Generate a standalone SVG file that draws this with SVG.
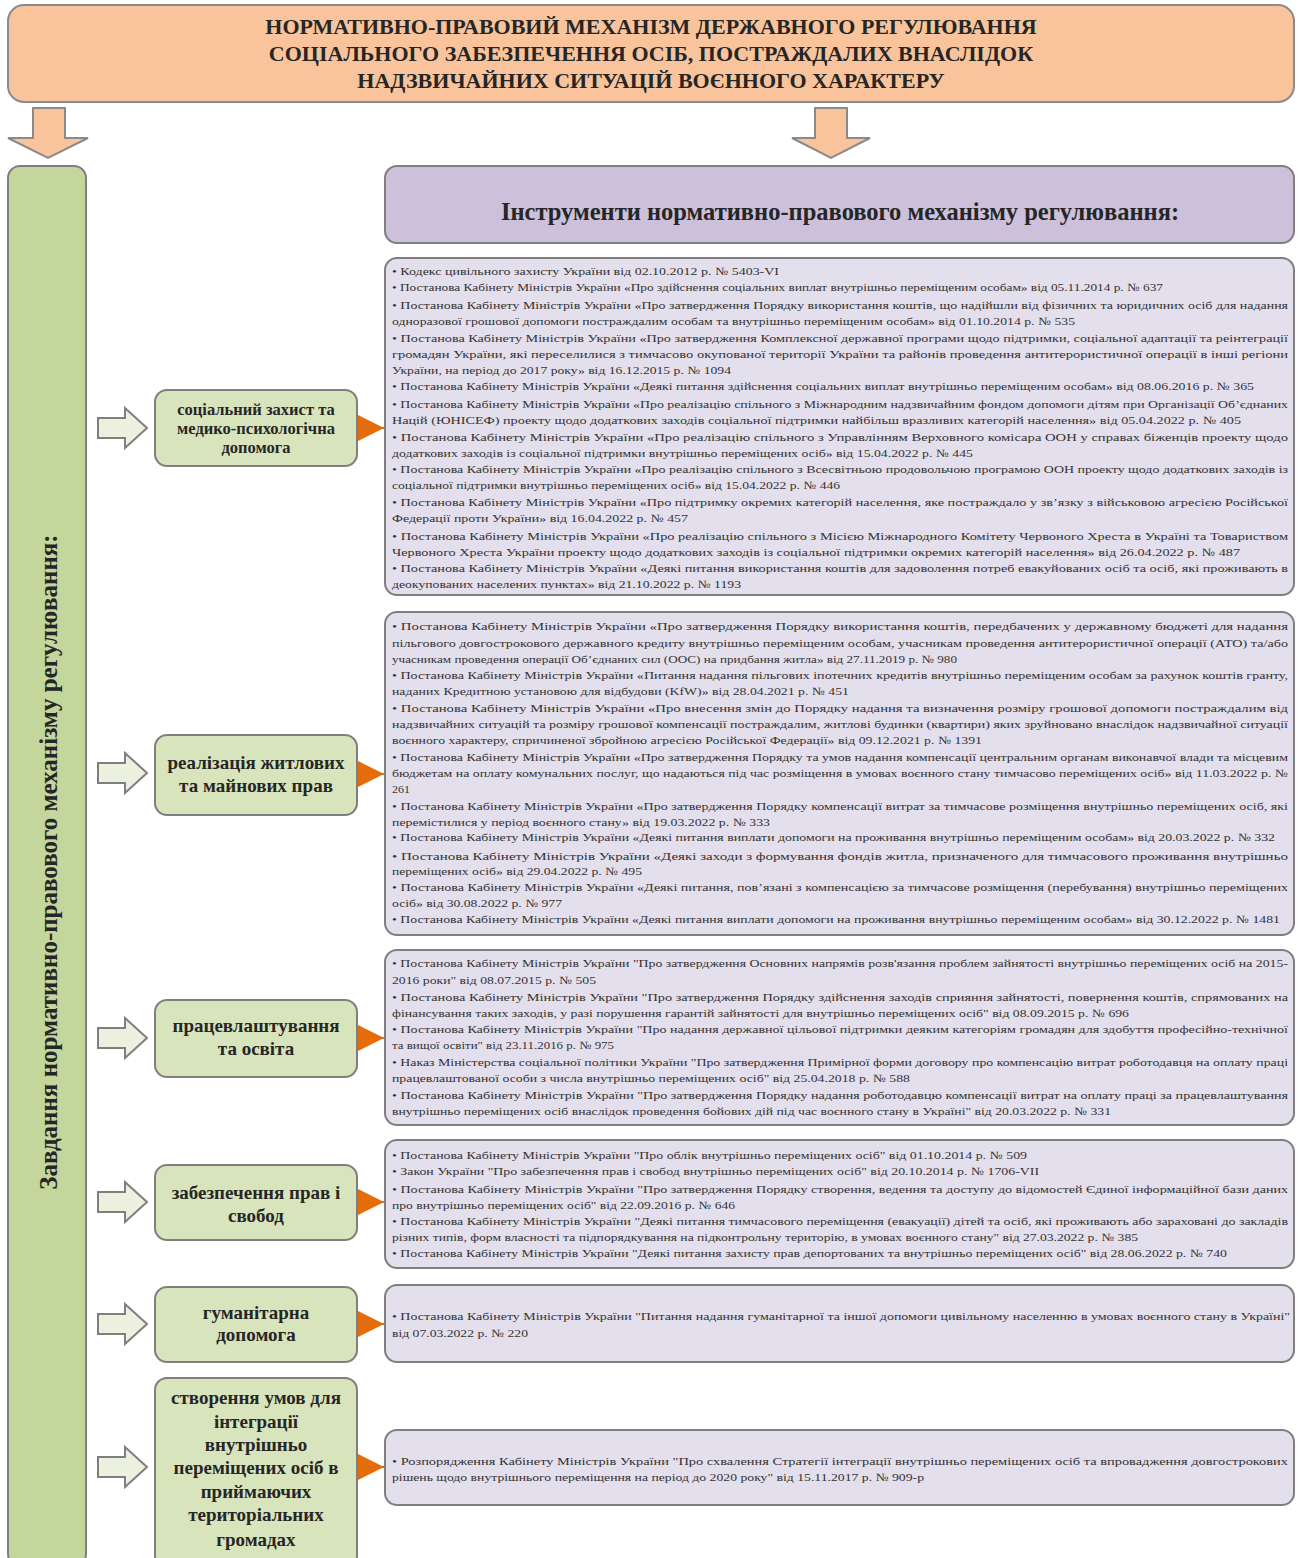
<svg xmlns="http://www.w3.org/2000/svg" width="1300" height="1558" viewBox="0 0 1300 1558">
<defs>
<style>
.hdr{fill:#f9c49b;stroke:#8a8a8a;stroke-width:2}
.grn{fill:#c3d69b;stroke:#7f7f7f;stroke-width:2}
.node{fill:#d8e4bc;stroke:#7f7f7f;stroke-width:2}
.phdr{fill:#ccc0da;stroke:#7f7f7f;stroke-width:2}
.pbox{fill:#e4dfec;stroke:#7f7f7f;stroke-width:2}
.harr{fill:#ebf1de;stroke:#7f7f7f;stroke-width:2;stroke-linejoin:miter}
.darr{fill:#f9c49b;stroke:#8a8a8a;stroke-width:2}
.conn{stroke:#595959;stroke-width:1.5;fill:none}
.tri{fill:#e46c0a}
.t{font-family:"Liberation Serif","Times New Roman",serif;fill:#333;font-size:11px}
.tb{font-family:"Liberation Serif","Times New Roman",serif;font-weight:bold;fill:#262626}
.title{font-size:22px;text-anchor:middle}
.ntx{text-anchor:middle}
</style>
<marker id="tri" viewBox="0 0 10 10" refX="10" refY="5" markerWidth="26" markerHeight="28" markerUnits="userSpaceOnUse" orient="auto">
<path d="M0,0 L10,5 L0,10 Z" class="tri"/>
</marker>
</defs>

<g id="header">
<rect class="hdr" x="8" y="5" width="1286" height="97" rx="16"/>
<text class="tb title" x="651" y="34">НОРМАТИВНО-ПРАВОВИЙ МЕХАНІЗМ ДЕРЖАВНОГО РЕГУЛЮВАННЯ</text>
<text class="tb title" x="651" y="61">СОЦІАЛЬНОГО ЗАБЕЗПЕЧЕННЯ ОСІБ, ПОСТРАЖДАЛИХ ВНАСЛІДОК</text>
<text class="tb title" x="651" y="88">НАДЗВИЧАЙНИХ СИТУАЦІЙ ВОЄННОГО ХАРАКТЕРУ</text>
</g>

<g id="connectors">
<path class="darr" d="M33,108 H65 V138 H88 L48,158 L8,138 H33 Z"/>
<path class="darr" d="M815,108 H847 V138 H870 L831,158 L792,138 H815 Z"/>
<path class="harr" d="M98,418 H125 V408 L147,428 L125,448 V438 H98 Z"/>
<line class="conn" x1="357" y1="428" x2="384" y2="428" marker-end="url(#tri)"/>
<path class="harr" d="M98,763 H125 V753 L147,773 L125,793 V783 H98 Z"/>
<line class="conn" x1="357" y1="774" x2="384" y2="774" marker-end="url(#tri)"/>
<path class="harr" d="M98,1028 H125 V1018 L147,1038 L125,1058 V1048 H98 Z"/>
<line class="conn" x1="357" y1="1038" x2="384" y2="1038" marker-end="url(#tri)"/>
<path class="harr" d="M98,1192 H125 V1182 L147,1202 L125,1222 V1212 H98 Z"/>
<line class="conn" x1="357" y1="1202" x2="384" y2="1202" marker-end="url(#tri)"/>
<path class="harr" d="M98,1314 H125 V1304 L147,1324 L125,1344 V1334 H98 Z"/>
<line class="conn" x1="357" y1="1324" x2="384" y2="1324" marker-end="url(#tri)"/>
<path class="harr" d="M98,1457 H125 V1447 L147,1467 L125,1487 V1477 H98 Z"/>
<line class="conn" x1="357" y1="1467" x2="384" y2="1467" marker-end="url(#tri)"/>
</g>

<g id="tasks">
<rect class="grn" x="8" y="166" width="78" height="1400" rx="12"/>
<text class="tb" font-size="25" text-anchor="middle" transform="translate(57,862) rotate(-90)">Завдання нормативно-правового механізму регулювання:</text>
</g>

<g id="instruments">
<rect class="phdr" x="385" y="166" width="909" height="77" rx="12"/>
<text class="tb" font-size="24.5" text-anchor="middle" x="840" y="220">Інструменти нормативно-правового механізму регулювання:</text>
</g>

<g id="node1">
<rect class="node" x="155" y="390" width="202" height="76" rx="12"/>
<text class="tb ntx" font-size="16.5" x="256" y="415">соціальний захист та</text>
<text class="tb ntx" font-size="16.5" x="256" y="434">медико-психологічна</text>
<text class="tb ntx" font-size="16.5" x="256" y="453">допомога</text>
</g>
<g id="node2">
<rect class="node" x="155" y="735" width="202" height="80" rx="12"/>
<text class="tb ntx" font-size="19" x="256" y="769">реалізація житлових</text>
<text class="tb ntx" font-size="19" x="256" y="792">та майнових прав</text>
</g>
<g id="node3">
<rect class="node" x="155" y="1000" width="202" height="77" rx="12"/>
<text class="tb ntx" font-size="19" x="256" y="1032">працевлаштування</text>
<text class="tb ntx" font-size="19" x="256" y="1055">та освіта</text>
</g>
<g id="node4">
<rect class="node" x="155" y="1165" width="202" height="75" rx="12"/>
<text class="tb ntx" font-size="19" x="256" y="1199">забезпечення прав і</text>
<text class="tb ntx" font-size="19" x="256" y="1222">свобод</text>
</g>
<g id="node5">
<rect class="node" x="155" y="1287" width="202" height="75" rx="12"/>
<text class="tb ntx" font-size="19" x="256" y="1319">гуманітарна</text>
<text class="tb ntx" font-size="19" x="256" y="1341">допомога</text>
</g>
<g id="node6">
<rect class="node" x="155" y="1378" width="202" height="190" rx="12"/>
<text class="tb ntx" font-size="19" x="256" y="1404">створення умов для</text>
<text class="tb ntx" font-size="19" x="256" y="1428">інтеграції</text>
<text class="tb ntx" font-size="19" x="256" y="1451">внутрішньо</text>
<text class="tb ntx" font-size="19" x="256" y="1474">переміщених осіб в</text>
<text class="tb ntx" font-size="19" x="256" y="1498">приймаючих</text>
<text class="tb ntx" font-size="19" x="256" y="1521">територіальних</text>
<text class="tb ntx" font-size="19" x="256" y="1546">громадах</text>
</g>

<g id="box1">
<rect class="pbox" x="385" y="258" width="909" height="337" rx="12"/>
<text class="t" x="392" y="275" textLength="387" lengthAdjust="spacingAndGlyphs">• Кодекс цивільного захисту України від 02.10.2012 р. № 5403-VI</text>
<text class="t" x="392" y="291" textLength="771" lengthAdjust="spacingAndGlyphs">• Постанова Кабінету Міністрів України «Про здійснення соціальних виплат внутрішньо переміщеним особам» від 05.11.2014 р. № 637</text>
<text class="t" x="392" y="309" textLength="896" lengthAdjust="spacingAndGlyphs">• Постанова Кабінету Міністрів України «Про затвердження Порядку використання коштів, що надійшли від фізичних та юридичних осіб для надання</text>
<text class="t" x="392" y="325" textLength="683" lengthAdjust="spacingAndGlyphs">одноразової грошової допомоги постраждалим особам та внутрішньо переміщеним особам» від 01.10.2014 р. № 535</text>
<text class="t" x="392" y="342" textLength="896" lengthAdjust="spacingAndGlyphs">• Постанова Кабінету Міністрів України «Про затвердження Комплексної державної програми щодо підтримки, соціальної адаптації та реінтеграції</text>
<text class="t" x="392" y="358" textLength="896" lengthAdjust="spacingAndGlyphs">громадян України, які переселилися з тимчасово окупованої території України та районів проведення антитерористичної операції в інші регіони</text>
<text class="t" x="392" y="374" textLength="339" lengthAdjust="spacingAndGlyphs">України, на період до 2017 року» від 16.12.2015 р. № 1094</text>
<text class="t" x="392" y="390" textLength="862" lengthAdjust="spacingAndGlyphs">• Постанова Кабінету Міністрів України «Деякі питання здійснення соціальних виплат внутрішньо переміщеним особам» від 08.06.2016 р. № 365</text>
<text class="t" x="392" y="408" textLength="896" lengthAdjust="spacingAndGlyphs">• Постанова Кабінету Міністрів України «Про реалізацію спільного з Міжнародним надзвичайним фондом допомоги дітям при Організації Об’єднаних</text>
<text class="t" x="392" y="424" textLength="849" lengthAdjust="spacingAndGlyphs">Націй (ЮНІСЕФ) проекту щодо додаткових заходів соціальної підтримки найбільш вразливих категорій населення» від 05.04.2022 р. № 405</text>
<text class="t" x="392" y="441" textLength="896" lengthAdjust="spacingAndGlyphs">• Постанова Кабінету Міністрів України «Про реалізацію спільного з Управлінням Верховного комісара ООН у справах біженців проекту щодо</text>
<text class="t" x="392" y="457" textLength="581" lengthAdjust="spacingAndGlyphs">додаткових заходів із соціальної підтримки внутрішньо переміщених осіб» від 15.04.2022 р. № 445</text>
<text class="t" x="392" y="473" textLength="896" lengthAdjust="spacingAndGlyphs">• Постанова Кабінету Міністрів України «Про реалізацію спільного з Всесвітньою продовольчою програмою ООН проекту щодо додаткових заходів із</text>
<text class="t" x="392" y="489" textLength="448" lengthAdjust="spacingAndGlyphs">соціальної підтримки внутрішньо переміщених осіб» від 15.04.2022 р. № 446</text>
<text class="t" x="392" y="506" textLength="896" lengthAdjust="spacingAndGlyphs">• Постанова Кабінету Міністрів України «Про підтримку окремих категорій населення, яке постраждало у зв’язку з військовою агресією Російської</text>
<text class="t" x="392" y="522" textLength="296" lengthAdjust="spacingAndGlyphs">Федерації проти України» від 16.04.2022 р. № 457</text>
<text class="t" x="392" y="540" textLength="896" lengthAdjust="spacingAndGlyphs">• Постанова Кабінету Міністрів України «Про реалізацію спільного з Місією Міжнародного Комітету Червоного Хреста в Україні та Товариством</text>
<text class="t" x="392" y="556" textLength="848" lengthAdjust="spacingAndGlyphs">Червоного Хреста України проекту щодо додаткових заходів із соціальної підтримки окремих категорій населення» від 26.04.2022 р. № 487</text>
<text class="t" x="392" y="572" textLength="896" lengthAdjust="spacingAndGlyphs">• Постанова Кабінету Міністрів України «Деякі питання використання коштів для задоволення потреб евакуйованих осіб та осіб, які проживають в</text>
<text class="t" x="392" y="588" textLength="349" lengthAdjust="spacingAndGlyphs">деокупованих населених пунктах» від 21.10.2022 р. № 1193</text>
</g>

<g id="box2">
<rect class="pbox" x="385" y="612" width="909" height="323" rx="12"/>
<text class="t" x="392" y="630" textLength="896" lengthAdjust="spacingAndGlyphs">• Постанова Кабінету Міністрів України «Про затвердження Порядку використання коштів, передбачених у державному бюджеті для надання</text>
<text class="t" x="392" y="647" textLength="896" lengthAdjust="spacingAndGlyphs">пільгового довгострокового державного кредиту внутрішньо переміщеним особам, учасникам проведення антитерористичної операції (АТО) та/або</text>
<text class="t" x="392" y="663" textLength="565" lengthAdjust="spacingAndGlyphs">учасникам проведення операції Об’єднаних сил (ООС) на придбання житла» від 27.11.2019 р. № 980</text>
<text class="t" x="392" y="679" textLength="896" lengthAdjust="spacingAndGlyphs">• Постанова Кабінету Міністрів України «Питання надання пільгових іпотечних кредитів внутрішньо переміщеним особам за рахунок коштів гранту,</text>
<text class="t" x="392" y="695" textLength="457" lengthAdjust="spacingAndGlyphs">наданих Кредитною установою для відбудови (KfW)» від 28.04.2021 р. № 451</text>
<text class="t" x="392" y="712" textLength="896" lengthAdjust="spacingAndGlyphs">• Постанова Кабінету Міністрів України «Про внесення змін до Порядку надання та визначення розміру грошової допомоги постраждалим від</text>
<text class="t" x="392" y="728" textLength="896" lengthAdjust="spacingAndGlyphs">надзвичайних ситуацій та розміру грошової компенсації постраждалим, житлові будинки (квартири) яких зруйновано внаслідок надзвичайної ситуації</text>
<text class="t" x="392" y="744" textLength="590" lengthAdjust="spacingAndGlyphs">воєнного характеру, спричиненої збройною агресією Російської Федерації» від 09.12.2021 р. № 1391</text>
<text class="t" x="392" y="761" textLength="896" lengthAdjust="spacingAndGlyphs">• Постанова Кабінету Міністрів України «Про затвердження Порядку та умов надання компенсації центральним органам виконавчої влади та місцевим</text>
<text class="t" x="392" y="777" textLength="896" lengthAdjust="spacingAndGlyphs">бюджетам на оплату комунальних послуг, що надаються під час розміщення в умовах воєнного стану тимчасово переміщених осіб» від 11.03.2022 р. №</text>
<text class="t" x="392" y="793" textLength="18" lengthAdjust="spacingAndGlyphs">261</text>
<text class="t" x="392" y="810" textLength="896" lengthAdjust="spacingAndGlyphs">• Постанова Кабінету Міністрів України «Про затвердження Порядку компенсації витрат за тимчасове розміщення внутрішньо переміщених осіб, які</text>
<text class="t" x="392" y="826" textLength="378" lengthAdjust="spacingAndGlyphs">перемістилися у період воєнного стану» від 19.03.2022 р. № 333</text>
<text class="t" x="392" y="841" font-size="9.5" textLength="883" lengthAdjust="spacingAndGlyphs">• Постанова Кабінету Міністрів України «Деякі питання виплати допомоги на проживання внутрішньо переміщеним особам» від 20.03.2022 р. № 332</text>
<text class="t" x="392" y="860" textLength="896" lengthAdjust="spacingAndGlyphs">• Постанова Кабінету Міністрів України «Деякі заходи з формування фондів житла, призначеного для тимчасового проживання внутрішньо</text>
<text class="t" x="392" y="875" textLength="250" lengthAdjust="spacingAndGlyphs">переміщених осіб» від 29.04.2022 р. № 495</text>
<text class="t" x="392" y="891" textLength="896" lengthAdjust="spacingAndGlyphs">• Постанова Кабінету Міністрів України «Деякі питання, пов’язані з компенсацією за тимчасове розміщення (перебування) внутрішньо переміщених</text>
<text class="t" x="392" y="907" textLength="170" lengthAdjust="spacingAndGlyphs">осіб» від 30.08.2022 р. № 977</text>
<text class="t" x="392" y="923" textLength="888" lengthAdjust="spacingAndGlyphs">• Постанова Кабінету Міністрів України «Деякі питання виплати допомоги на проживання внутрішньо переміщеним особам» від 30.12.2022 р. № 1481</text>
</g>

<g id="box3">
<rect class="pbox" x="385" y="950" width="909" height="175" rx="12"/>
<text class="t" x="392" y="967" textLength="896" lengthAdjust="spacingAndGlyphs">• Постанова Кабінету Міністрів України "Про затвердження Основних напрямів розв'язання проблем зайнятості внутрішньо переміщених осіб на 2015-</text>
<text class="t" x="392" y="984" textLength="204" lengthAdjust="spacingAndGlyphs">2016 роки" від 08.07.2015 р. № 505</text>
<text class="t" x="392" y="1001" textLength="896" lengthAdjust="spacingAndGlyphs">• Постанова Кабінету Міністрів України "Про затвердження Порядку здійснення заходів сприяння зайнятості, повернення коштів, спрямованих на</text>
<text class="t" x="392" y="1017" textLength="737" lengthAdjust="spacingAndGlyphs">фінансування таких заходів, у разі порушення гарантій зайнятості для внутрішньо переміщених осіб" від 08.09.2015 р. № 696</text>
<text class="t" x="392" y="1033" textLength="896" lengthAdjust="spacingAndGlyphs">• Постанова Кабінету Міністрів України "Про надання державної цільової підтримки деяким категоріям громадян для здобуття професійно-технічної</text>
<text class="t" x="392" y="1049" textLength="222" lengthAdjust="spacingAndGlyphs">та вищої освіти" від 23.11.2016 р. № 975</text>
<text class="t" x="392" y="1066" textLength="896" lengthAdjust="spacingAndGlyphs">• Наказ Міністерства соціальної політики України "Про затвердження Примірної форми договору про компенсацію витрат роботодавця на оплату праці</text>
<text class="t" x="392" y="1082" textLength="518" lengthAdjust="spacingAndGlyphs">працевлаштованої особи з числа внутрішньо переміщених осіб" від 25.04.2018 р. № 588</text>
<text class="t" x="392" y="1099" textLength="896" lengthAdjust="spacingAndGlyphs">• Постанова Кабінету Міністрів України "Про затвердження Порядку надання роботодавцю компенсації витрат на оплату праці за працевлаштування</text>
<text class="t" x="392" y="1115" textLength="719" lengthAdjust="spacingAndGlyphs">внутрішньо переміщених осіб внаслідок проведення бойових дій під час воєнного стану в Україні" від 20.03.2022 р. № 331</text>
</g>

<g id="box4">
<rect class="pbox" x="385" y="1140" width="909" height="128" rx="12"/>
<text class="t" x="392" y="1159" textLength="635" lengthAdjust="spacingAndGlyphs">• Постанова Кабінету Міністрів України "Про облік внутрішньо переміщених осіб" від 01.10.2014 р. № 509</text>
<text class="t" x="392" y="1175" textLength="647" lengthAdjust="spacingAndGlyphs">• Закон України "Про забезпечення прав і свобод внутрішньо переміщених осіб" від 20.10.2014 р. № 1706-VII</text>
<text class="t" x="392" y="1193" textLength="896" lengthAdjust="spacingAndGlyphs">• Постанова Кабінету Міністрів України "Про затвердження Порядку створення, ведення та доступу до відомостей Єдиної інформаційної бази даних</text>
<text class="t" x="392" y="1209" textLength="343" lengthAdjust="spacingAndGlyphs">про внутрішньо переміщених осіб" від 22.09.2016 р. № 646</text>
<text class="t" x="392" y="1225" textLength="896" lengthAdjust="spacingAndGlyphs">• Постанова Кабінету Міністрів України "Деякі питання тимчасового переміщення (евакуації) дітей та осіб, які проживають або зараховані до закладів</text>
<text class="t" x="392" y="1241" textLength="746" lengthAdjust="spacingAndGlyphs">різних типів, форм власності та підпорядкування на підконтрольну територію, в умовах воєнного стану" від 27.03.2022 р. № 385</text>
<text class="t" x="392" y="1257" textLength="835" lengthAdjust="spacingAndGlyphs">• Постанова Кабінету Міністрів України "Деякі питання захисту прав депортованих та внутрішньо переміщених осіб" від 28.06.2022 р. № 740</text>
</g>

<g id="box5">
<rect class="pbox" x="385" y="1285" width="909" height="77" rx="12"/>
<text class="t" x="392" y="1320" textLength="898" lengthAdjust="spacingAndGlyphs">• Постанова Кабінету Міністрів України "Питання надання гуманітарної та іншої допомоги цивільному населенню в умовах воєнного стану в Україні"</text>
<text class="t" x="392" y="1337" textLength="136" lengthAdjust="spacingAndGlyphs">від 07.03.2022 р. № 220</text>
</g>

<g id="box6">
<rect class="pbox" x="385" y="1430" width="909" height="75" rx="12"/>
<text class="t" x="392" y="1465" textLength="896" lengthAdjust="spacingAndGlyphs">• Розпорядження Кабінету Міністрів України "Про схвалення Стратегії інтеграції внутрішньо переміщених осіб та впровадження довгострокових</text>
<text class="t" x="392" y="1481" textLength="532" lengthAdjust="spacingAndGlyphs">рішень щодо внутрішнього переміщення на період до 2020 року" від 15.11.2017 р. № 909-р</text>
</g>
</svg>
